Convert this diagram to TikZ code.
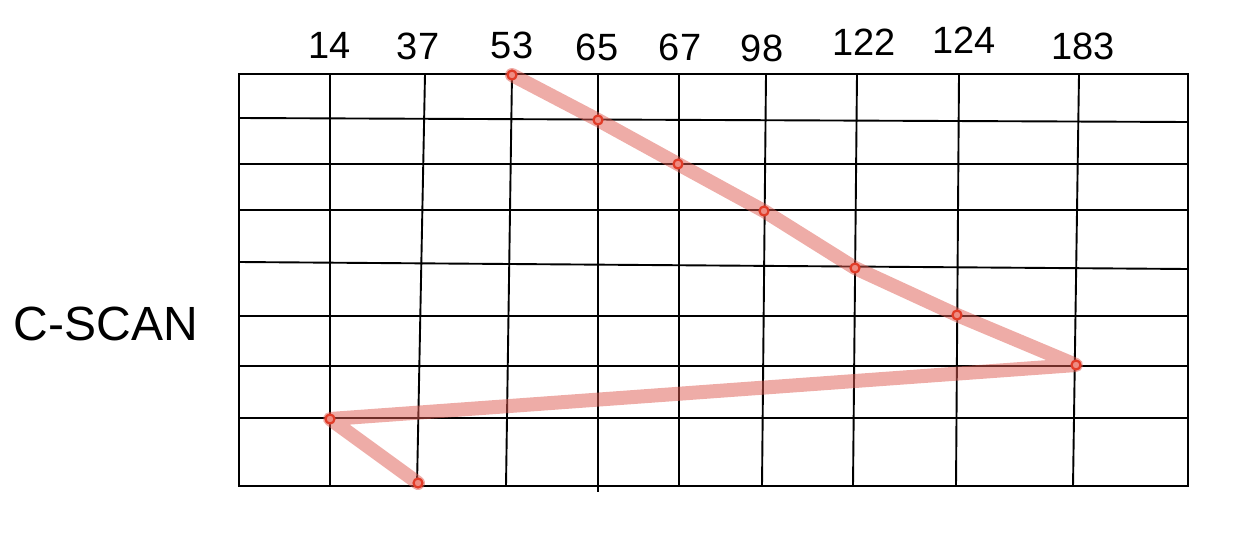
\documentclass[tikz,border=0pt]{standalone}
\usepackage{fontspec}
\setmainfont{Liberation Sans}
\begin{document}
\begin{tikzpicture}[x=1pt,y=-1pt,
  gridline/.style={line width=1.9pt,black},
  seek/.style={line width=14pt,color={rgb,255:red,222;green,90;blue,80},opacity=0.5,line cap=round,line join=round},
  stop/.style={circle,draw={rgb,255:red,225;green,60;blue,40},line width=2.2pt,fill={rgb,255:red,238;green,140;blue,130},inner sep=0pt,minimum size=9pt},
  lbl/.style={font=\fontsize{38}{38}\selectfont,inner sep=0pt},
  title/.style={font=\fontsize{48}{48}\selectfont,inner sep=0pt}]
\useasboundingbox (0,0) rectangle (1252,538);
% outer box
\draw[gridline] (239,74) rectangle (1188,486);
% horizontal lines
\draw[gridline] (239,118) -- (1188,122);
\draw[gridline] (239,164) -- (1188,164);
\draw[gridline] (239,210) -- (1188,210);
\draw[gridline] (239,262) -- (1188,269);
\draw[gridline] (239,316) -- (1188,316);
\draw[gridline] (239,366) -- (1188,366);
\draw[gridline] (239,418) -- (1188,418);
% vertical lines
\draw[gridline] (330,74) -- (330,486);
\draw[gridline] (425,74) -- (417,486);
\draw[gridline] (512,74) -- (506,486);
\draw[gridline] (598,74) -- (598,492);
\draw[gridline] (679,74) -- (679,486);
\draw[gridline] (766,74) -- (762,486);
\draw[gridline] (857,74) -- (853,486);
\draw[gridline] (959,74) -- (956,486);
\draw[gridline] (1079,74) -- (1073,486);
% labels
\node[lbl] (l14) at (330,45) {14};
\node[lbl] (l37) at (418,46) {37};
\node[lbl] (l53) at (512,45) {53};
\node[lbl] (l65) at (597,47) {65};
\node[lbl] (l67) at (680,47) {67};
\node[lbl] (l98) at (762,48) {98};
\node[lbl] (l122) at (864,42) {122};
\node[lbl] (l124) at (964,40) {124};
\node[lbl] (l183) at (1083,46) {183};
\node[title] (cscan) at (106,324) {C-SCAN};
% stops
\coordinate (p53) at (512,75);
\coordinate (p65) at (598,120);
\coordinate (p67) at (678,164);
\coordinate (p98) at (764,211);
\coordinate (p122) at (855,268);
\coordinate (p124) at (957,315);
\coordinate (p183) at (1076,365);
\coordinate (p14) at (330,419);
\coordinate (p37) at (418,483);
\draw[seek] (p53) -- (p65) -- (p67) -- (p98) -- (p122) -- (p124) -- (p183) -- (p14) -- (p37);
\foreach \p in {53,65,67,98,122,124,183,14,37}
  \node[stop] (s\p) at (p\p) {};
\end{tikzpicture}
\end{document}
